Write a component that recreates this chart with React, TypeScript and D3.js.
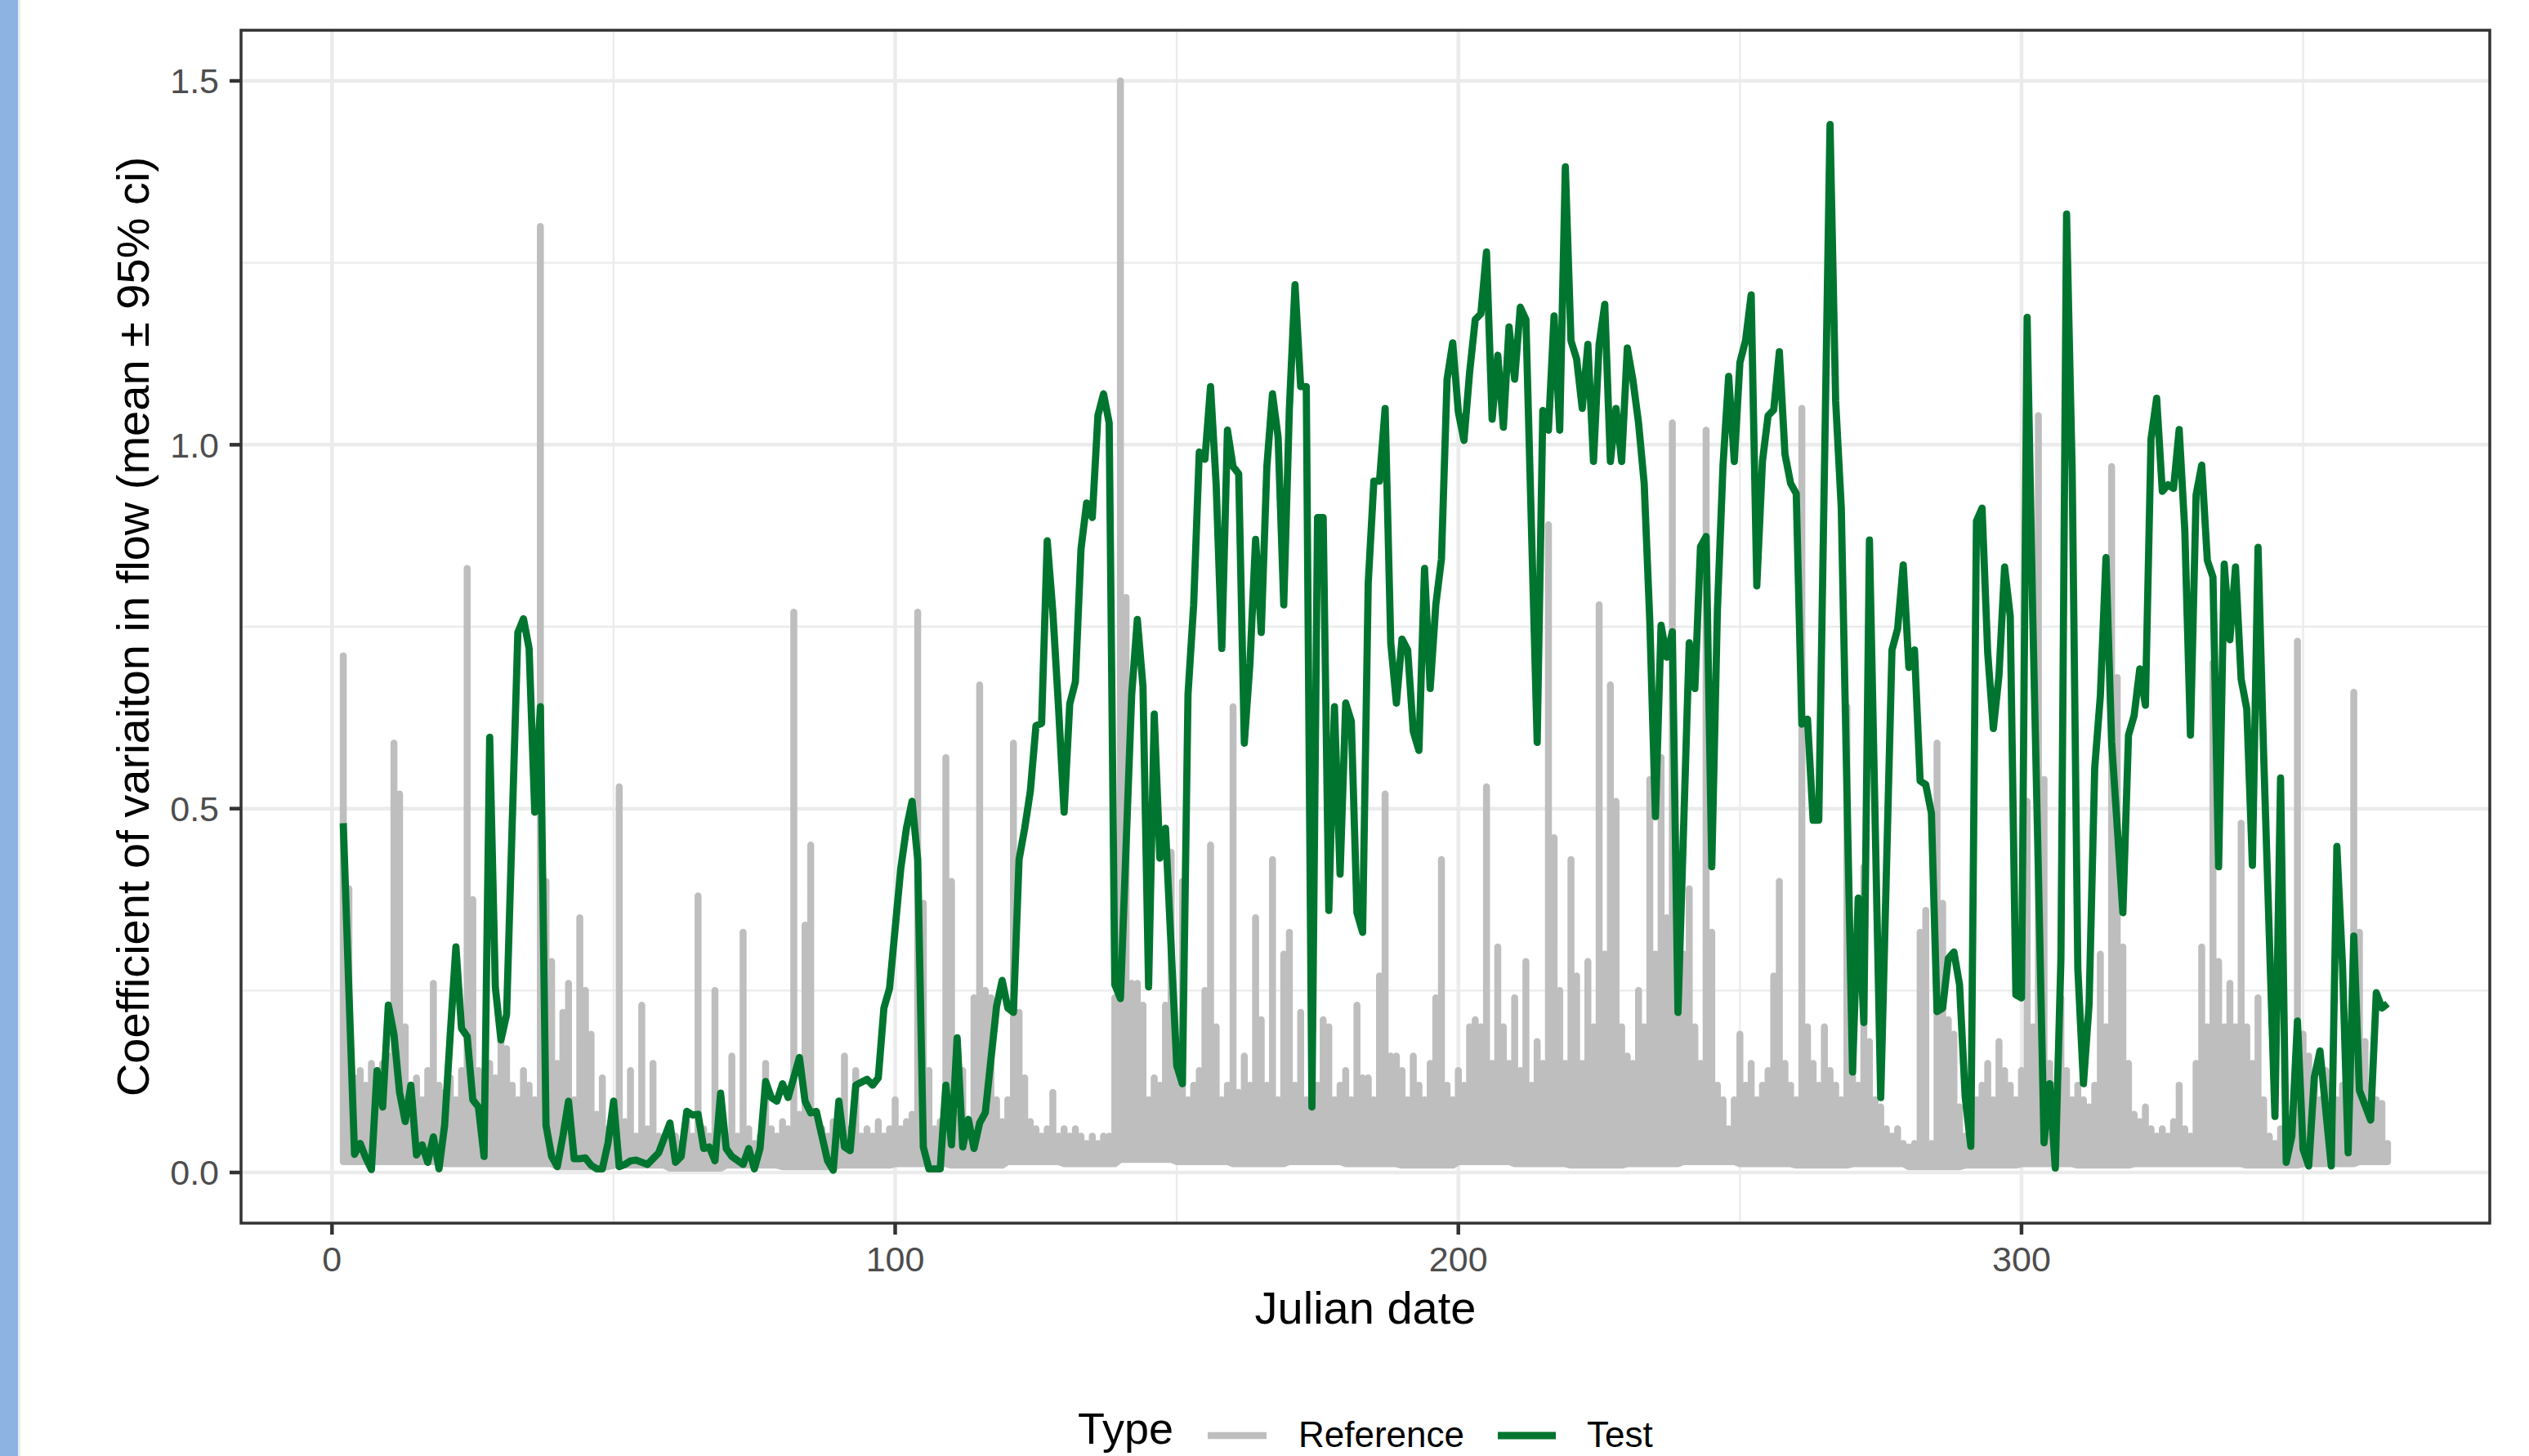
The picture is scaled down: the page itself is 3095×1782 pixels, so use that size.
import React from "react";
import * as d3 from "d3";

const W = 3095;
const H = 1782;
const panel = { left: 295, right: 3047, top: 37, bottom: 1497 };

const xTicks = [0, 100, 200, 300];
const xMinorTicks = [50, 150, 250, 350];
const yTicks = [0, 0.5, 1.0, 1.5];
const yMinorTicks = [0.25, 0.75, 1.25];

// reference sites: daily spread of CV (top of the grey band / spikes), from day 2
const refFirstDay = 2;
const refHigh = [
  0.71, 0.39, 0.13, 0.14, 0.12, 0.15, 0.14, 0.15, 0.16,
  0.59, 0.52, 0.2, 0.12, 0.13, 0.1, 0.14, 0.26, 0.12, 0.11,
  0.13, 0.1, 0.14, 0.83, 0.375, 0.14, 0.12, 0.15, 0.13, 0.18,
  0.17, 0.12, 0.1, 0.14, 0.12, 0.1, 1.3, 0.4, 0.29, 0.15,
  0.22, 0.26, 0.1, 0.35, 0.25, 0.19, 0.08, 0.13, 0.06, 0.07,
  0.53, 0.07, 0.14, 0.05, 0.23, 0.06, 0.15, 0.05, 0.04, 0.06,
  0.05, 0.04, 0.07, 0.05, 0.38, 0.06, 0.05, 0.25, 0.06, 0.05,
  0.16, 0.05, 0.33, 0.06, 0.04, 0.05, 0.15, 0.06, 0.05, 0.07,
  0.06, 0.77, 0.08, 0.34, 0.45, 0.07, 0.06, 0.05, 0.07, 0.06,
  0.16, 0.06, 0.14, 0.05, 0.06, 0.05, 0.07, 0.05, 0.06, 0.1,
  0.06, 0.07, 0.08, 0.77, 0.37, 0.14, 0.06, 0.07, 0.57, 0.4,
  0.08, 0.14, 0.07, 0.24, 0.67, 0.25, 0.24, 0.1, 0.07, 0.1,
  0.59, 0.22, 0.13, 0.07, 0.06, 0.05, 0.06, 0.11, 0.05, 0.06,
  0.05, 0.06, 0.05, 0.04, 0.05, 0.04, 0.05, 0.05, 0.24, 1.5,
  0.79, 0.26, 0.26, 0.23, 0.1, 0.13, 0.12, 0.23, 0.44, 0.15,
  0.4, 0.1, 0.12, 0.14, 0.25, 0.45, 0.2, 0.1, 0.12, 0.64,
  0.11, 0.16, 0.12, 0.35, 0.21, 0.12, 0.43, 0.1, 0.3, 0.33,
  0.12, 0.22, 0.1, 0.09, 0.12, 0.21, 0.2, 0.1, 0.12, 0.14,
  0.1, 0.23, 0.13, 0.13, 0.1, 0.27, 0.52, 0.16, 0.16, 0.14,
  0.1, 0.16, 0.12, 0.1, 0.15, 0.24, 0.43, 0.12, 0.1, 0.14,
  0.12, 0.2, 0.21, 0.2, 0.53, 0.15, 0.31, 0.2, 0.15, 0.24,
  0.14, 0.29, 0.12, 0.18, 0.15, 0.89, 0.46, 0.25, 0.15, 0.43,
  0.27, 0.15, 0.29, 0.2, 0.78, 0.3, 0.67, 0.51, 0.2, 0.16,
  0.15, 0.25, 0.2, 0.54, 0.3, 0.57, 0.35, 1.03, 0.39, 0.3,
  0.39, 0.2, 0.15, 1.02, 0.33, 0.12, 0.1, 0.06, 0.1, 0.19,
  0.12, 0.15, 0.1, 0.12, 0.14, 0.27, 0.4, 0.15, 0.12, 0.1,
  1.05, 0.2, 0.15, 0.12, 0.2, 0.14, 0.12, 0.1, 0.64, 0.15,
  0.12, 0.42, 0.18, 0.1, 0.09, 0.06, 0.05, 0.06, 0.04, 0.035,
  0.04, 0.33, 0.36, 0.04, 0.59, 0.37, 0.21, 0.19, 0.09, 0.05,
  0.04, 0.1, 0.12, 0.15, 0.1, 0.18, 0.14, 0.12, 0.1, 0.14,
  0.51, 0.2, 1.04, 0.54, 0.15, 0.12, 0.24, 0.14, 0.1, 0.12,
  0.1, 0.09, 0.12, 0.3, 0.2, 0.97, 0.68, 0.31, 0.15, 0.08,
  0.07, 0.09, 0.06, 0.05, 0.06, 0.05, 0.07, 0.12, 0.06, 0.05,
  0.15, 0.31, 0.2, 0.7, 0.29, 0.2, 0.26, 0.2, 0.48, 0.2,
  0.15, 0.24, 0.1, 0.05, 0.04, 0.06, 0.04, 0.05, 0.73, 0.19,
  0.16, 0.13, 0.1, 0.14, 0.12, 0.1, 0.12, 0.14, 0.66, 0.33,
  0.18, 0.12, 0.1, 0.095, 0.04,
];
// bottom of the grey band, one value per ten days
const refLowByDecade = [
  0.015, 0.015, 0.012, 0.012, 0.008, 0.01, 0.006, 0.01, 0.008, 0.01,
  0.012, 0.01, 0.015, 0.012, 0.018, 0.015, 0.012, 0.015, 0.012, 0.01,
  0.015, 0.012, 0.01, 0.012, 0.015, 0.012, 0.01, 0.012, 0.008, 0.01,
  0.012, 0.01, 0.012, 0.012, 0.01, 0.012, 0.015,
];

// test site
const testDays = [
  2, 3, 4, 5, 6, 7, 8, 9, 10, 11, 12, 13, 14, 15, 16, 17, 18, 19, 20,
  21, 22, 23, 24, 25, 26, 27, 28, 29, 30, 31, 32, 33, 34, 35, 36, 37, 38, 39, 40,
  41, 42, 43, 44, 45, 46, 47, 48, 49, 50, 51, 52, 53, 54, 56, 57, 58, 60,
  61, 62, 63, 64, 65, 66, 67, 68, 69, 70, 71, 73, 74, 75, 76, 77, 78, 79, 80,
  81, 83, 84, 85, 86, 88, 89, 90, 91, 92, 93, 95, 96, 97, 98, 99,
  101, 102, 103, 104, 105, 106, 107, 108, 109, 110, 111, 112, 113, 114, 115, 116, 118, 119, 120,
  121, 122, 123, 124, 125, 126, 127, 128, 129, 130, 131, 132, 133, 134, 135, 136, 137, 138, 139, 140,
  142, 143, 144, 145, 146, 147, 148, 150, 151, 152, 153, 154, 155, 156, 157, 158, 159, 160,
  161, 162, 163, 164, 165, 166, 167, 168, 169, 170, 171, 172, 173, 174, 175, 176, 177, 178, 179, 180,
  181, 182, 183, 184, 185, 186, 187, 188, 189, 190, 191, 192, 193, 194, 195, 196, 197, 198, 199, 200,
  201, 202, 203, 204, 205, 206, 207, 208, 209, 210, 211, 212, 214, 215, 216, 217, 218, 219, 220,
  221, 222, 223, 224, 225, 226, 227, 228, 229, 230, 231, 232, 233, 234, 235, 236, 237, 238, 239,
  241, 242, 243, 244, 245, 246, 247, 248, 249, 250, 251, 252, 253, 254, 255, 256, 257, 258, 259, 260,
  261, 262, 263, 264, 266, 267, 268, 270, 271, 272, 273, 275, 277, 278, 279, 280,
  281, 282, 283, 284, 285, 286, 287, 288, 289, 290, 291, 292, 293, 294, 295, 296, 297, 298, 299, 300,
  301, 302, 303, 304, 305, 306, 307, 308, 309, 310, 311, 312, 313, 314, 315, 316, 317, 318, 319, 320,
  321, 322, 323, 324, 325, 326, 327, 328, 329, 330, 331, 332, 333, 334, 335, 336, 337, 338, 339, 340,
  341, 342, 343, 345, 346, 347, 348, 349, 350, 351, 352, 353, 355, 356, 357, 358, 359, 360,
  362, 363, 364, 365,
];
const testCV = [
  0.48, 0.25, 0.025, 0.04, 0.02, 0.004, 0.14, 0.09, 0.23, 0.19, 0.11, 0.07, 0.12, 0.024, 0.038, 0.014, 0.049, 0.005, 0.065,
  0.19, 0.31, 0.198, 0.187, 0.1, 0.09, 0.022, 0.598, 0.255, 0.182, 0.217, 0.48, 0.742, 0.761, 0.72, 0.495, 0.64, 0.065, 0.022, 0.008,
  0.05, 0.098, 0.019, 0.019, 0.02, 0.01, 0.005, 0.005, 0.04, 0.098, 0.008, 0.011, 0.016, 0.017, 0.011, 0.019, 0.027, 0.068,
  0.014, 0.022, 0.084, 0.079, 0.08, 0.033, 0.035, 0.016, 0.109, 0.033, 0.022, 0.011, 0.033, 0.005, 0.033, 0.125, 0.103, 0.098, 0.122,
  0.103, 0.158, 0.098, 0.082, 0.084, 0.016, 0.003, 0.098, 0.035, 0.03, 0.12, 0.128, 0.12, 0.13, 0.226, 0.253,
  0.418, 0.473, 0.51, 0.43, 0.035, 0.005, 0.005, 0.005, 0.12, 0.038, 0.185, 0.035, 0.073, 0.033, 0.068, 0.082, 0.228, 0.264, 0.226,
  0.22, 0.43, 0.473, 0.524, 0.614, 0.617, 0.868, 0.77, 0.64, 0.495, 0.644, 0.674, 0.857, 0.92, 0.9, 1.04, 1.07, 1.03, 0.258, 0.239,
  0.657, 0.76, 0.668, 0.255, 0.63, 0.432, 0.473, 0.147, 0.122, 0.657, 0.78, 0.99, 0.98, 1.08, 0.945, 0.72, 1.02, 0.97,
  0.96, 0.59, 0.7, 0.87, 0.742, 0.97, 1.07, 1.01, 0.78, 1.05, 1.22, 1.08, 1.08, 0.09, 0.9, 0.9, 0.36, 0.64, 0.41, 0.645,
  0.62, 0.357, 0.33, 0.81, 0.95, 0.95, 1.05, 0.728, 0.645, 0.733, 0.718, 0.606, 0.58, 0.83, 0.665, 0.78, 0.843, 1.09, 1.14, 1.045,
  1.006, 1.099, 1.172, 1.18, 1.265, 1.035, 1.123, 1.024, 1.162, 1.09, 1.189, 1.172, 0.591, 1.047, 1.02, 1.177, 1.02, 1.382, 1.143,
  1.118, 1.05, 1.138, 0.977, 1.138, 1.193, 0.977, 1.05, 0.977, 1.133, 1.089, 1.03, 0.947, 0.757, 0.489, 0.752, 0.708, 0.743, 0.22,
  0.728, 0.665, 0.86, 0.874, 0.42, 0.772, 0.972, 1.094, 0.977, 1.113, 1.143, 1.206, 0.806, 0.977, 1.04, 1.048, 1.128, 0.987, 0.947, 0.933,
  0.616, 0.623, 0.484, 0.484, 1.44, 1.06, 0.913, 0.138, 0.377, 0.206, 0.869, 0.103, 0.718, 0.747, 0.835, 0.694,
  0.718, 0.538, 0.533, 0.494, 0.221, 0.226, 0.294, 0.303, 0.258, 0.104, 0.036, 0.895, 0.913, 0.714, 0.61, 0.683, 0.832, 0.764, 0.244, 0.24,
  1.175, 0.764, 0.411, 0.041, 0.122, 0.006, 0.294, 1.317, 0.963, 0.28, 0.122, 0.231, 0.556, 0.655, 0.845, 0.592, 0.475, 0.357, 0.601, 0.628,
  0.692, 0.642, 1.008, 1.064, 0.936, 0.945, 0.94, 1.021, 0.882, 0.601, 0.931, 0.972, 0.841, 0.818, 0.42, 0.836, 0.732, 0.832, 0.678, 0.637,
  0.422, 0.859, 0.574, 0.077, 0.542, 0.014, 0.05, 0.208, 0.032, 0.009, 0.131, 0.167, 0.009, 0.448, 0.285, 0.027, 0.325, 0.113,
  0.072, 0.247, 0.226, 0.232,
];

const REF_COLOR = "#bebebe";
const TEST_COLOR = "#00752f";
const FONT = "'Liberation Sans', Arial, sans-serif";

export default function App() {
  const x = d3.scaleLinear().domain([-16.15, 383.15]).range([panel.left, panel.right]);
  const y = d3.scaleLinear().domain([-0.0696, 1.5696]).range([panel.bottom, panel.top]);

  const line = d3
    .line<[number, number]>()
    .x((d) => x(d[0]))
    .y((d) => y(d[1]));

  // the reference sites give several values per day, so the line climbs and drops at each day
  const refPoints: [number, number][] = [];
  refHigh.forEach((hi, i) => {
    const day = refFirstDay + i;
    const lo = refLowByDecade[Math.floor(day / 10)];
    refPoints.push([day, lo], [day, hi], [day, lo]);
  });

  const testPoints = testDays.map((d, i) => [d, testCV[i]] as [number, number]);
  const fmt = d3.format(".1f");
  const midX = (panel.left + panel.right) / 2;
  const midY = (panel.top + panel.bottom) / 2;

  return (
    <div style={{ position: "absolute", left: 0, top: 0 }}>
      <svg width={W} height={H} style={{ display: "block" }} fontFamily={FONT}>
        <rect x={0} y={0} width={W} height={H} fill="#ffffff" />
        <rect x={0} y={0} width={22} height={H} fill="#8db3e2" />
        <rect x={22} y={0} width={3} height={H} fill="#e6e9ee" />

        {/* grid */}
        <g>
          {yMinorTicks.map((v) => (
            <line key={`ym${v}`} x1={panel.left} x2={panel.right} y1={y(v)} y2={y(v)} stroke="#ebebeb" strokeWidth={2.3} />
          ))}
          {xMinorTicks.map((v) => (
            <line key={`xm${v}`} x1={x(v)} x2={x(v)} y1={panel.top} y2={panel.bottom} stroke="#ebebeb" strokeWidth={2.3} />
          ))}
          {yTicks.map((v) => (
            <line key={`yg${v}`} x1={panel.left} x2={panel.right} y1={y(v)} y2={y(v)} stroke="#ebebeb" strokeWidth={4.5} />
          ))}
          {xTicks.map((v) => (
            <line key={`xg${v}`} x1={x(v)} x2={x(v)} y1={panel.top} y2={panel.bottom} stroke="#ebebeb" strokeWidth={4.5} />
          ))}
        </g>

        {/* series */}
        <path d={line(refPoints) ?? ""} fill="none" stroke={REF_COLOR} strokeWidth={8.5} strokeLinejoin="round" />
        <path d={line(testPoints) ?? ""} fill="none" stroke={TEST_COLOR} strokeWidth={8.8} strokeLinejoin="round" />

        {/* panel border */}
        <rect
          x={panel.left}
          y={panel.top}
          width={panel.right - panel.left}
          height={panel.bottom - panel.top}
          fill="none"
          stroke="#333333"
          strokeWidth={3.5}
        />

        {/* axes */}
        <g fill="#4d4d4d" fontSize={43}>
          {yTicks.map((v) => (
            <g key={`yt${v}`}>
              <line x1={panel.left - 14} x2={panel.left} y1={y(v)} y2={y(v)} stroke="#333333" strokeWidth={4.5} />
              <text x={panel.left - 27} y={y(v)} dy="0.36em" textAnchor="end">
                {fmt(v)}
              </text>
            </g>
          ))}
          {xTicks.map((v) => (
            <g key={`xt${v}`}>
              <line x1={x(v)} x2={x(v)} y1={panel.bottom} y2={panel.bottom + 14} stroke="#333333" strokeWidth={4.5} />
              <text x={x(v)} y={1556} textAnchor="middle">
                {v}
              </text>
            </g>
          ))}
        </g>

        <text x={midX} y={1620} textAnchor="middle" fontSize={56} fill="#000000">
          Julian date
        </text>
        <text
          transform={`translate(182,${midY}) rotate(-90)`}
          textAnchor="middle"
          fontSize={56}
          fill="#000000"
        >
          Coefficient of variaiton in flow (mean ± 95% ci)
        </text>

        {/* legend */}
        <g>
          <text x={1319} y={1767} fontSize={54} fill="#000000">
            Type
          </text>
          <line x1={1478} x2={1550} y1={1757} y2={1757} stroke={REF_COLOR} strokeWidth={8.5} />
          <text x={1589} y={1771} fontSize={44} fill="#000000">
            Reference
          </text>
          <line x1={1833} x2={1904} y1={1757} y2={1757} stroke={TEST_COLOR} strokeWidth={8.8} />
          <text x={1942} y={1771} fontSize={44} fill="#000000">
            Test
          </text>
        </g>
      </svg>
    </div>
  );
}
